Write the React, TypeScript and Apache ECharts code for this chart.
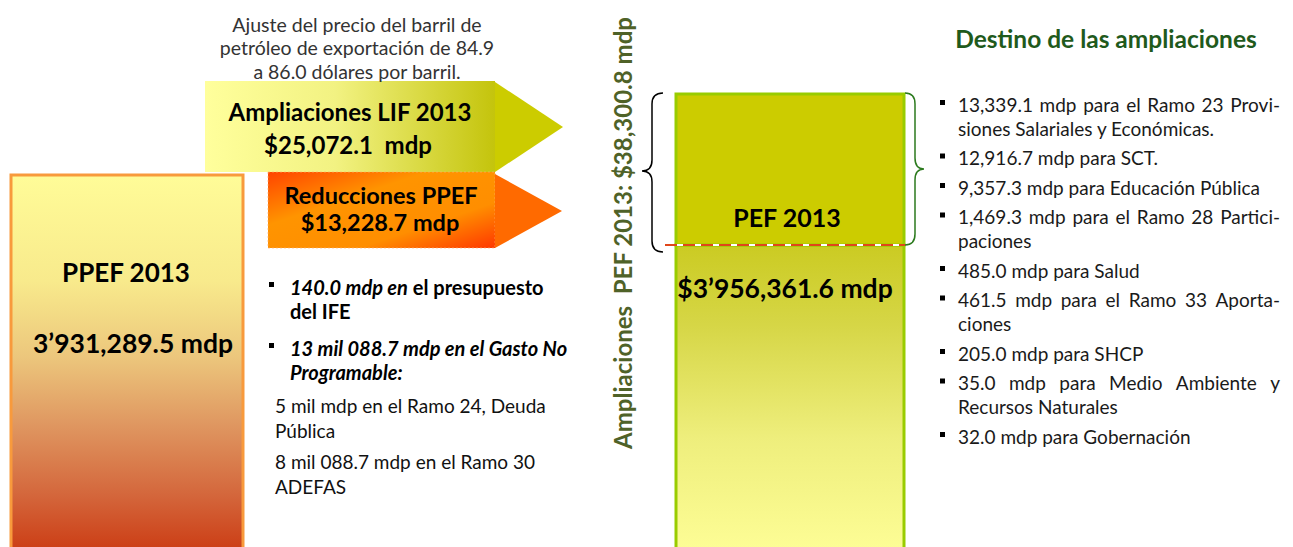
import React, { useEffect, useRef } from 'react';
import * as echarts from 'echarts';

const FONT = 'Lato, "Noto Sans", sans-serif';

// ---- texts / values ----
const oilNote = ['Ajuste del precio del barril de', 'petróleo de exportación de 84.9', 'a 86.0 dólares por barril.'];
const ppefTitle = 'PPEF 2013';
const ppefValue = '3’931,289.5 mdp';
const lifLines = ['Ampliaciones LIF 2013', '$25,072.1  mdp'];
const reduccionLines = ['Reducciones PPEF', '$13,228.7 mdp'];
const pefTitle = 'PEF 2013';
const pefValue = '$3’956,361.6 mdp';
const verticalLabel = 'Ampliaciones  PEF 2013: $38,300.8 mdp';
const destinoTitle = 'Destino de las ampliaciones';
const destinoItems: string[][] = [
  ['13,339.1 mdp para el Ramo 23 Provi-', 'siones Salariales y Económicas.'],
  ['12,916.7 mdp para SCT.'],
  ['9,357.3 mdp para Educación Pública'],
  ['1,469.3 mdp para el Ramo 28 Partici-', 'paciones'],
  ['485.0 mdp para Salud'],
  ['461.5 mdp para el Ramo 33 Aporta-', 'ciones'],
  ['205.0 mdp para SHCP'],
  ['35.0 mdp para Medio Ambiente y', 'Recursos Naturales'],
  ['32.0 mdp para Gobernación'],
];
// bullet items of the reductions (rich segments: bi = bold italic, b = bold)
const reduccionBullets: { t: string; s: string }[][][] = [
  [[{ t: '140.0 mdp en', s: 'bi' }, { t: ' el presupuesto', s: 'b' }], [{ t: 'del IFE', s: 'b' }]],
  [[{ t: '13 mil 088.7 mdp en el Gasto No', s: 'bi' }], [{ t: 'Programable:', s: 'bi' }]],
];
const reduccionDetail: string[][] = [
  ['5 mil mdp en el Ramo 24, Deuda', 'Pública'],
  ['8 mil 088.7 mdp en el Ramo 30', 'ADEFAS'],
];

let ctx: CanvasRenderingContext2D | null = null;
function measure(text: string, size: number, weight = 'normal') {
  if (!ctx) ctx = document.createElement('canvas').getContext('2d');
  if (!ctx) return text.length * size * 0.5;
  ctx.font = `${weight} ${size}px ${FONT}`;
  return ctx.measureText(text).width;
}

function justified(line: string, x0: number, x1: number, y: number, size: number, fill: string) {
  const words = line.split(' ');
  const widths = words.map((w) => measure(w, size));
  const total = widths.reduce((a, b) => a + b, 0);
  const gap = Math.max(measure(' ', size), (x1 - x0 - total) / (words.length - 1));
  const els: any[] = [];
  let x = x0;
  words.forEach((w, i) => {
    els.push({ type: 'text', x, y, style: { text: w, fontSize: size, fontFamily: FONT, fill, align: 'left', verticalAlign: 'middle' } });
    x += widths[i] + gap;
  });
  return els;
}

const braceL = 'M 663 93 Q 652 93 652 104 L 652 160 Q 652 171 642 171 Q 652 171 652 182 L 652 241 Q 652 252 663 252';
const braceR = 'M 905 93 Q 915 93 915 104 L 915 158 Q 915 169 924 169 Q 915 169 915 180 L 915 234 Q 915 245 905 245';

export default function App() {
  const ref = useRef<HTMLDivElement>(null);
  useEffect(() => {
    echarts.graphic.registerShape('braceL', echarts.graphic.extendPath(braceL, {}) as any);
    echarts.graphic.registerShape('braceR', echarts.graphic.extendPath(braceR, {}) as any);
    const chart = echarts.init(ref.current!, null, { renderer: 'svg' });
    const LG = echarts.graphic.LinearGradient;
    const els: any[] = [];
    const txt = (text: string, x: number, y: number, size: number, opt: any = {}) => ({
      type: 'text', x, y, rotation: opt.rotation || 0, z: 10,
      style: {
        text, fontSize: size, fontFamily: FONT, fontWeight: opt.weight || 'normal', fontStyle: opt.style || 'normal',
        fill: opt.fill || '#000', align: opt.align || 'center', verticalAlign: 'middle', rich: opt.rich,
      },
    });

    // left PPEF column
    els.push({
      type: 'rect', shape: { x: 11, y: 175, width: 232, height: 380 },
      style: {
        fill: new LG(0, 0, 0, 1, [
          { offset: 0, color: '#FFFC98' }, { offset: 0.28, color: '#F8EA8C' }, { offset: 0.48, color: '#ECC67C' },
          { offset: 0.66, color: '#DF9660' }, { offset: 0.84, color: '#D4673C' }, { offset: 1, color: '#CB3A12' },
        ]),
        stroke: '#F89A3C', lineWidth: 3,
      },
    });
    els.push(txt(ppefTitle, 126, 272, 26, { weight: 'bold' }));
    els.push(txt(ppefValue, 133, 343, 26.5, { weight: 'bold' }));

    // top note
    oilNote.forEach((l, i) => els.push(txt(l, 357, 24 + i * 23.5, 19.5, { fill: '#333' })));

    // LIF arrow
    els.push({
      type: 'rect', shape: { x: 205, y: 81, width: 290, height: 91 },
      style: { fill: new LG(0, 0, 1, 0, [{ offset: 0, color: '#FFFF9C' }, { offset: 0.45, color: '#F2F282' }, { offset: 1, color: '#C4C40C' }]) },
    });
    els.push({ type: 'polygon', shape: { points: [[495, 82], [563, 127], [495, 172]] }, style: { fill: '#CCCC00' } });
    els.push(txt(lifLines[0], 350, 111, 24, { weight: 'bold' }));
    els.push(txt(lifLines[1], 348, 144, 24, { weight: 'bold' }));

    // Reducciones arrow
    els.push({
      type: 'rect', shape: { x: 268, y: 172, width: 227, height: 76 },
      style: {
        fill: new LG(0, 0, 1, 1, [{ offset: 0, color: '#FF4400' }, { offset: 0.35, color: '#FF9400' }, { offset: 0.7, color: '#FF8E00' }, { offset: 1, color: '#FF3800' }]),
        stroke: '#FFB070', lineWidth: 0.6, lineDash: [2, 2],
      },
    });
    els.push({ type: 'polygon', shape: { points: [[495, 174], [562, 211], [495, 248]] }, style: { fill: '#FF6A00' } });
    els.push(txt(reduccionLines[0], 381, 195, 23.5, { weight: 'bold' }));
    els.push(txt(reduccionLines[1], 380, 222, 23.5, { weight: 'bold' }));

    // reduction bullets
    const rich = {
      bi: { fontSize: 20, fontFamily: FONT, fontWeight: 'bold', fontStyle: 'italic', fill: '#000' },
      b: { fontSize: 20, fontFamily: FONT, fontWeight: 'bold', fill: '#000' },
    };
    const bulletY = [[287, 311], [348, 372]];
    reduccionBullets.forEach((item, i) => {
      els.push({ type: 'rect', shape: { x: 269, y: bulletY[i][0] - 5, width: 5, height: 5 }, style: { fill: '#000' } });
      item.forEach((line, j) => {
        const t = line.map((s) => `{${s.s}|${s.t}}`).join('');
        els.push(txt(t, 290, bulletY[i][j], 20, { align: 'left', rich }));
      });
    });
    const detY = [[405, 430], [461, 486]];
    reduccionDetail.forEach((item, i) => item.forEach((l, j) => els.push(txt(l, 275, detY[i][j], 19, { align: 'left', fill: '#111' }))));

    // vertical label
    els.push(txt(verticalLabel, 622, 233, 24, { weight: 'bold', fill: '#4F6228', rotation: Math.PI / 2 }));

    // PEF column
    els.push({
      type: 'rect', shape: { x: 676, y: 245, width: 228, height: 320 },
      style: {
        fill: new LG(0, 0, 0, 1, [{ offset: 0, color: '#CBCB22' }, { offset: 0.25, color: '#D6D646' }, { offset: 0.6, color: '#EEEE7C' }, { offset: 1, color: '#FFFF99' }]),
        stroke: '#99CC00', lineWidth: 3,
      },
    });
    els.push({ type: 'rect', shape: { x: 676, y: 94, width: 228, height: 151 }, style: { fill: '#CCCC00', stroke: '#99CC00', lineWidth: 3 } });
    els.push({ type: 'line', shape: { x1: 665, y1: 245, x2: 905, y2: 245 }, style: { stroke: '#FFFFFF', lineWidth: 2 } });
    els.push({ type: 'line', shape: { x1: 665, y1: 245, x2: 905, y2: 245 }, style: { stroke: '#E0461A', lineWidth: 2, lineDash: [12, 6] } });
    els.push(txt(pefTitle, 787, 217, 25, { weight: 'bold' }));
    els.push(txt(pefValue, 785, 288, 26.5, { weight: 'bold' }));

    // braces
    els.push({ type: 'braceL', style: { stroke: '#000', fill: 'none', lineWidth: 1.5 } });
    els.push({ type: 'braceR', style: { stroke: '#2C7A1E', fill: 'none', lineWidth: 1.5 } });

    // destino list
    els.push(txt(destinoTitle, 1106, 38, 24.5, { weight: 'bold', fill: '#1F5A1C' }));
    const lineSize = 19;
    let y = 104;
    destinoItems.forEach((item) => {
      els.push({ type: 'rect', shape: { x: 940, y: y - 4, width: 5, height: 5 }, style: { fill: '#000' } });
      item.forEach((l, j) => {
        const isLast = j === item.length - 1;
        if (!isLast && l.split(' ').length > 1) els.push(...justified(l, 958, 1280, y, lineSize, '#1A1A1A'));
        else els.push(txt(l, 958, y, lineSize, { align: 'left', fill: '#1A1A1A' }));
        if (!isLast) y += 24;
      });
      y += 29.5;
    });

    chart.setOption({ animation: false, graphic: { elements: els } });
    return () => chart.dispose();
  }, []);
  return <div ref={ref} style={{ position: 'absolute', left: 0, top: 0, width: 1293, height: 547, background: '#fff' }} />;
}
